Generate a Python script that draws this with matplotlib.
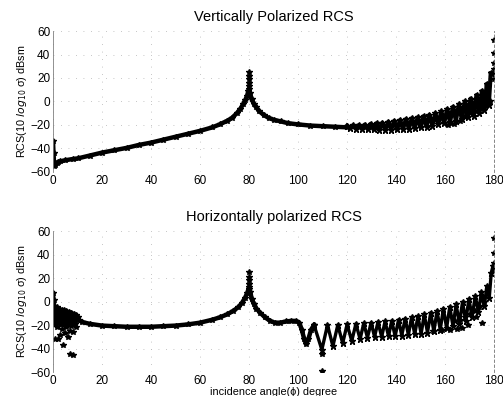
import matplotlib
matplotlib.use('Agg')
import matplotlib.pyplot as plt

plt.rcParams['font.family'] = ['Liberation Sans', 'DejaVu Sans']

# ---- vertically polarized RCS (top) ----
v_ang = [0, 0.2, 0.5, 1, 1.5, 2, 3, 5, 8, 10, 15, 20, 25, 30, 35, 40, 45, 50,
         55, 60, 65, 68, 71, 73, 75, 76.5, 77.5, 78.5, 79.2, 79.7, 80, 80.4,
         81, 82, 83, 84, 86, 88, 90, 93, 96, 100, 105, 110, 115, 120]
v_val = [-34, -44, -55, -54, -52.5, -51.5, -51, -50, -49, -48.5, -46, -43.5,
         -41.5, -39.5, -37, -35, -32.5, -30, -27.5, -25, -22, -19.5, -16.5,
         -14, -10, -6, -2.5, 1.5, 5, 9, 11, 7, 2, -2, -5, -8, -11.5, -14,
         -15.5, -17, -18.5, -19.5, -20.5, -21, -21.5, -22]
# ripple band 120..180 (alternating maxima / minima)
v_rip_ang = [120, 121.2, 122.4, 123.6, 124.8, 126, 127.2, 128.4, 129.6, 130.8,
             132, 133.2, 134.4, 135.6, 136.8, 138, 139.2, 140.4, 141.6, 142.8,
             144, 145.2, 146.4, 147.6, 148.8, 150, 151.2, 152.4, 153.6, 154.8,
             156, 157.2, 158.4, 159.6, 160.8, 162, 163.2, 164.4, 165.6, 166.8,
             168, 169.2, 170.4, 171.6, 172.8, 174, 175, 176, 177, 177.8, 178.6]
v_rip_val = [-20.5, -22.5, -20.3, -23, -20, -23.3, -19.6, -23.5, -19, -23.8,
             -18.5, -24, -18, -24, -17.2, -24, -16.5, -23.8, -15.8, -23.5,
             -15, -23, -14.3, -22.5, -13.5, -22, -12.5, -21.3, -11.3, -20.5,
             -10, -19.5, -8.5, -18.5, -6.5, -17.5, -4.5, -16.3, -2.5, -15,
             0, -13.5, 2.5, -12, 5.5, -10, 9, -7, 15, -3, 24]
v_dot_ang = [161, 163.5, 166, 168, 170, 171.5, 173, 174.5, 176, 177.5, 178.5,
             80, 80, 80, 80, 80, 180, 180, 180, 180, 180, 180]
v_dot_val = [-20, -19, -17, -12, -10, -8.5, -8.5, -6, -5, -2, 0,
             13, 16, 19, 22, 25, 19, 24, 28, 33, 41, 52]

# ---- horizontally polarized RCS (bottom) ----
h_ang = [0, 0.2, 0.5, 1, 1.5, 2, 2.5, 3, 3.5, 4, 4.5, 5, 5.5, 6, 6.5, 7, 7.5,
         8, 8.5, 9, 9.5, 10, 10.5, 12, 15, 20, 25, 30, 35, 40, 45, 50, 55, 60,
         65, 68, 71, 73.5, 75.5, 77, 78.3, 79.2, 79.8, 80.1, 80.5, 81.1, 82,
         83, 84.5, 86.5, 88.6, 90.5, 92.7, 95, 97, 99, 100.5, 101.5, 102.5,
         103.3, 104.2, 105.3, 106.5]
h_val = [7, 1, -4, -19, -5, -18, -6, -19, -7, -19, -7.5, -19.5, -8, -19.5,
         -9, -19.5, -9.5, -19.5, -10.5, -19.5, -11.5, -13, -16, -17.5, -19,
         -20.5, -21, -21.5, -21.5, -21.5, -21, -20.5, -19.5, -18, -15.5, -13.5,
         -11, -8, -5, -1.5, 3, 7, 11, 12.5, 8, 2, -2, -6, -9.5, -13.5, -16.5,
         -18, -18, -17, -16.5, -16.5, -18, -24, -32, -36.3, -32, -24, -20]
h_rip_ang = [106.5, 109.7, 112, 114.2, 116.2, 118.2, 120, 121.9, 123.6, 125.3,
             126.8, 128.3, 129.8, 131.2, 132.6, 134.1, 135.5, 136.9, 138.2,
             139.6, 141, 142.3, 143.7, 145, 146.3, 147.6, 148.9, 150.2, 151.5,
             152.8, 154.1, 155.4, 156.7, 158, 159.3, 160.6, 161.9, 163.2,
             164.5, 165.8, 167.1, 168.4, 169.7, 171, 172.3, 173.6, 174.8, 176,
             177, 178, 178.8, 179.5]
h_rip_val = [-20, -41, -20, -38, -20, -35.5, -19.5, -33.5, -19, -32, -18.5,
             -30.7, -18, -30, -17.5, -30, -17, -29.5, -16.5, -29.5, -15.5, -29,
             -14.5, -28.5, -13.5, -28, -12.5, -27.5, -11, -26.5, -9.5, -25.5,
             -8, -24, -6, -22.5, -4.5, -21, -2.5, -19, -0.5, -16.5, 2, -13,
             4.5, -9, 8, -4, 13, 3, 24, 30]
h_dot_ang = [0.8, 1.5, 2, 2.9, 3.5, 4.2, 4.9, 5.5, 6.2, 6.9, 6.9, 7.5, 8.2,
             8.3, 9.5, 109.8, 109.7, 155.2, 158.6, 162, 164.7, 166.7, 169.4,
             164, 166, 168, 170, 172, 174, 176, 172.5, 175,
             80, 80, 80, 80, 180, 180, 180, 180]
h_dot_val = [-31.5, -22, -32, -28.7, -23, -37, -26.5, -22, -30.4, -25, -44.8,
             -21, -25.8, -45.6, -22, -58.9, -44.8, -25.1, -24.5, -24, -23,
             -22.4, -20, -17, -15.5, -13, -11, -7.7, -5, 0, -13, -18,
             15, 18, 21, 25, 27, 32.6, 41, 54]

x_ticks = [0, 20, 40, 60, 80, 100, 120, 140, 160, 180]
y_ticks = [-60, -40, -20, 0, 20, 40, 60]

panels = [
    ('Vertically Polarized RCS', v_ang, v_val, v_rip_ang, v_rip_val,
     v_dot_ang, v_dot_val, [0.1054, 0.5657, 0.877, 0.356], 3.0),
    ('Horizontally polarized RCS', h_ang, h_val, h_rip_ang, h_rip_val,
     h_dot_ang, h_dot_val, [0.1054, 0.0606, 0.877, 0.356], 2.4),
]

fig = plt.figure(figsize=(5.03, 3.96), dpi=100)
for title, ang, val, rang, rval, dang, dval, pos, rlw in panels:
    ax = fig.add_axes(pos)
    ax.plot(ang, val, '-', color='k', lw=3.2, marker='*', ms=4)
    ax.plot(rang, rval, '-', color='k', lw=rlw, marker='*', ms=4.5)
    ax.plot(dang, dval, '*', color='k', ms=3.8, ls='none')
    ax.set_xlim(0, 180)
    ax.set_ylim(-60, 60)
    ax.set_xticks(x_ticks)
    ax.set_yticks(y_ticks)
    ax.grid(True, color='0.7', linestyle=(0, (1, 8)), linewidth=0.6)
    ax.tick_params(length=0, labelsize=8.5)
    ax.tick_params(axis='x', pad=2)
    ax.tick_params(axis='y', pad=2)
    for s in ['top', 'bottom']:
        ax.spines[s].set_visible(False)
    ax.spines['left'].set_color('0.5')
    ax.spines['left'].set_linewidth(0.6)
    ax.spines['right'].set_color('0.45')
    ax.spines['right'].set_linestyle((0, (3, 3)))
    ax.spines['right'].set_linewidth(0.6)
    ax.set_title(title, fontsize=10.5, pad=7)
    ax.set_ylabel('RCS(10 $log_{10}$ σ) dBsm', fontsize=7.8, labelpad=1)

ax.set_xlabel('incidence angle(ϕ) degree', fontsize=7.8)
ax.xaxis.set_label_coords(0.5, -0.105)

fig.savefig('out.png', dpi=100)
